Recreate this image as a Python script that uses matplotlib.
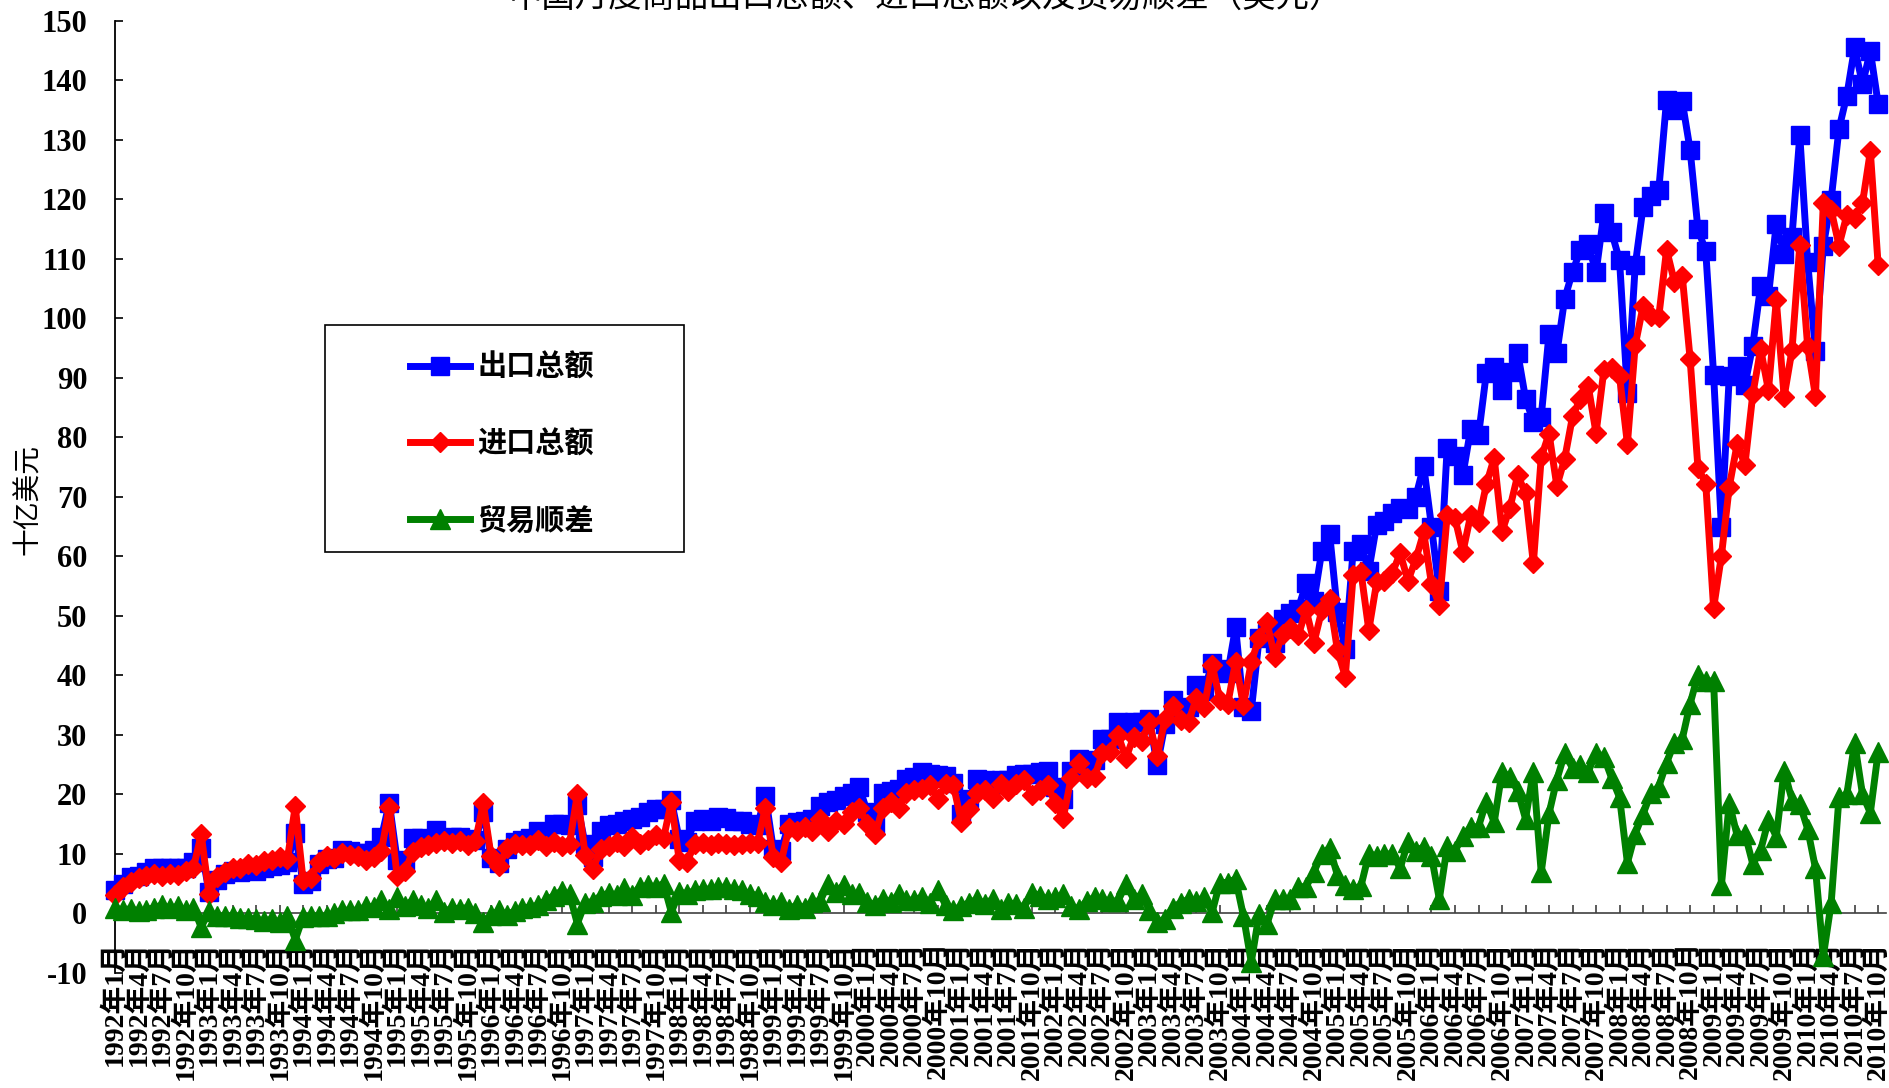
import numpy as np
import matplotlib
matplotlib.use("Agg")
import matplotlib.pyplot as plt
from matplotlib.patches import Rectangle

# monthly values in billion USD, Jan 1992 .. Oct 2010
exports = [
    4.0, 5.0, 6.1, 6.3, 6.9, 7.6, 7.7, 7.6, 7.7, 7.6, 8.6, 11.0,            # 1992
    3.6, 5.6, 6.6, 7.1, 7.0, 7.5, 7.2, 7.6, 7.9, 8.1, 8.6, 13.6,            # 1993
    5.0, 5.4, 8.3, 9.1, 9.4, 10.7, 10.5, 10.2, 10.1, 10.6, 12.8, 18.6,      # 1994
    9.0, 8.4, 12.6, 12.6, 12.4, 14.0, 12.5, 12.8, 12.9, 12.5, 12.3, 17.1,   # 1995
    9.3, 8.4, 10.8, 12.0, 12.4, 12.6, 13.8, 13.6, 15.0, 15.1, 14.9, 18.3,   # 1996
    11.6, 9.5, 13.9, 14.8, 15.1, 15.6, 15.9, 16.2, 17.0, 17.6, 17.6, 19.0,  # 1997
    12.5, 12.0, 15.6, 15.9, 15.6, 16.2, 16.0, 15.6, 15.6, 15.1, 14.8, 19.8, # 1998
    10.9, 10.5, 15.1, 15.3, 15.6, 15.8, 18.0, 18.8, 19.1, 19.8, 20.3, 21.2, # 1999
    17.0, 14.7, 20.3, 20.6, 20.9, 22.6, 22.9, 23.7, 23.4, 23.2, 23.1, 22.0, # 2000
    16.7, 19.3, 22.6, 22.4, 21.8, 22.5, 22.4, 23.3, 23.5, 23.4, 23.8, 24.0, # 2001
    21.2, 19.2, 24.0, 26.0, 24.8, 25.7, 29.3, 29.3, 32.1, 31.0, 32.1, 32.1, # 2002
    32.6, 24.9, 31.8, 35.8, 34.3, 34.6, 38.3, 37.4, 42.0, 41.1, 40.4, 48.1, # 2003
    34.6, 34.0, 46.2, 47.1, 45.5, 49.4, 50.4, 51.2, 55.5, 52.5, 60.9, 63.8, # 2004
    50.6, 44.5, 60.9, 62.0, 57.6, 65.3, 65.9, 67.2, 68.1, 67.9, 70.0, 75.2, # 2005
    65.0, 54.1, 78.2, 76.9, 73.6, 81.4, 80.3, 90.8, 91.8, 88.0, 91.0, 94.2, # 2006
    86.5, 82.6, 83.4, 97.4, 94.2, 103.3, 107.8, 111.4, 112.4, 107.7, 117.6, 114.4,  # 2007
    109.7, 87.4, 108.9, 118.7, 120.5, 121.5, 136.7, 134.9, 136.4, 128.3, 115.0, 111.2,  # 2008
    90.5, 64.9, 90.3, 91.9, 88.8, 95.4, 105.4, 103.7, 115.9, 110.8, 113.7, 130.7,  # 2009
    109.5, 94.5, 112.1, 119.9, 131.8, 137.4, 145.5, 139.3, 144.9, 136.0,    # 2010
]

imports = [
    3.1, 4.4, 5.3, 5.9, 6.3, 6.6, 6.3, 6.7, 6.5, 7.1, 7.6, 13.3,
    3.2, 6.1, 7.0, 7.6, 7.7, 8.3, 8.2, 8.8, 8.9, 9.5, 9.1, 18.0,
    5.6, 5.9, 8.7, 9.6, 9.3, 10.2, 9.9, 9.7, 8.9, 9.5, 10.5, 17.9,
    6.3, 7.1, 10.4, 11.2, 11.5, 11.8, 12.2, 11.9, 12.1, 11.5, 12.2, 18.5,
    9.6, 7.9, 11.0, 11.6, 11.5, 11.5, 12.4, 11.4, 12.0, 11.3, 11.7, 20.0,
    9.8, 7.5, 10.9, 11.4, 12.0, 11.4, 12.8, 11.7, 12.3, 13.1, 12.6, 18.8,
    8.9, 8.7, 11.7, 11.8, 11.5, 11.8, 11.6, 11.5, 11.7, 11.8, 11.8, 17.8,
    9.5, 8.6, 14.3, 13.9, 14.6, 13.8, 15.9, 13.8, 15.5, 15.0, 17.1, 17.8,
    15.0, 13.3, 17.8, 18.7, 17.7, 20.3, 20.7, 20.9, 21.6, 19.2, 21.7, 21.5,
    15.4, 17.5, 20.2, 20.8, 19.4, 21.8, 20.6, 21.7, 22.5, 19.9, 20.8, 21.6,
    18.5, 16.0, 22.7, 25.3, 22.7, 23.0, 26.9, 27.2, 30.0, 26.1, 29.7, 28.9,
    32.1, 26.4, 32.7, 34.8, 32.5, 32.2, 36.2, 34.7, 41.8, 35.9, 35.2, 42.3,
    35.0, 42.2, 46.3, 48.9, 43.1, 47.0, 47.9, 46.7, 51.0, 45.5, 50.9, 52.8,
    44.2, 39.8, 56.8, 57.4, 47.6, 55.6, 55.9, 57.2, 60.5, 55.9, 59.5, 64.0,
    55.4, 51.8, 66.9, 66.4, 60.7, 66.9, 65.7, 72.1, 76.5, 64.2, 68.1, 73.6,
    70.6, 58.8, 76.6, 80.6, 71.8, 76.4, 83.5, 86.5, 88.6, 80.7, 91.3, 91.7,
    90.2, 78.9, 95.5, 102.0, 100.3, 100.2, 111.5, 106.1, 107.1, 93.2, 74.9, 72.2,
    51.3, 60.1, 71.7, 78.8, 75.4, 87.2, 94.8, 87.9, 103.0, 86.8, 94.6, 112.3,
    95.3, 86.9, 119.4, 118.2, 112.2, 117.3, 116.8, 119.3, 128.0, 108.9,
]

balance = [
    0.9, 0.6, 0.8, 0.4, 0.6, 1.0, 1.4, 0.9, 1.2, 0.5, 1.0, -2.3,
    0.4, -0.5, -0.4, -0.5, -0.7, -0.8, -1.0, -1.2, -1.0, -1.4, -0.5, -4.4,
    -0.6, -0.5, -0.4, -0.5, 0.1, 0.5, 0.6, 0.5, 1.2, 1.1, 2.3, 0.7,
    2.7, 1.3, 2.2, 1.4, 0.9, 2.2, 0.3, 0.9, 0.8, 1.0, 0.1, -1.4,
    -0.3, 0.5, -0.2, 0.4, 0.9, 1.1, 1.4, 2.2, 3.0, 3.8, 3.2, -1.7,
    1.8, 2.0, 3.0, 3.4, 3.1, 4.2, 3.1, 4.5, 4.7, 4.5, 5.0, 0.2,
    3.6, 3.3, 3.9, 4.1, 4.1, 4.4, 4.4, 4.1, 3.9, 3.3, 3.0, 2.0,
    1.4, 1.9, 0.8, 1.4, 1.0, 2.0, 2.1, 5.0, 3.6, 4.8, 3.2, 3.4,
    2.0, 1.4, 2.5, 1.9, 3.2, 2.3, 2.2, 2.8, 1.8, 4.0, 1.4, 0.5,
    1.3, 1.8, 2.4, 1.6, 2.4, 0.7, 1.8, 1.6, 1.0, 3.5, 3.0, 2.4,
    2.7, 3.2, 1.3, 0.7, 2.1, 2.7, 2.4, 2.1, 2.1, 4.9, 2.4, 3.2,
    0.5, -1.5, -0.9, 1.0, 1.8, 2.4, 2.1, 2.7, 0.2, 5.2, 5.2, 5.8,
    -0.4, -8.2, -0.1, -1.8, 2.4, 2.4, 2.5, 4.5, 4.5, 7.0, 10.0, 11.0,
    6.4, 4.7, 4.1, 4.6, 10.0, 9.7, 10.0, 10.0, 7.6, 12.0, 10.5, 11.2,
    9.6, 2.4, 11.3, 10.5, 13.0, 14.5, 14.6, 18.8, 15.3, 23.8, 22.9, 20.6,
    15.9, 23.8, 6.9, 16.8, 22.5, 26.9, 24.4, 24.9, 23.8, 27.0, 26.3, 22.7,
    19.5, 8.5, 13.4, 16.7, 20.2, 21.3, 25.3, 28.7, 29.3, 35.2, 40.1, 39.0,
    39.1, 4.8, 18.6, 13.1, 13.4, 8.3, 10.6, 15.7, 12.9, 24.0, 19.1, 18.4,
    14.2, 7.6, -7.2, 1.7, 19.5, 20.0, 28.7, 20.0, 16.9, 27.1,
]

series_names = ['出口总额', '进口总额', '贸易顺差']
title = '中国月度商品出口总额、进口总额以及贸易顺差（美元）'
ylabel = '十亿美元'

# tick every 3 months: 1992年1月, 1992年4月, ...
years = list(range(1992, 2011))
tick_months = [1, 4, 7, 10]
tick_labels = ['%d年%d月' % (y, m) for y in years for m in tick_months]

W, H = 1889, 1088
fig = plt.figure(figsize=(W / 100, H / 100), dpi=100)
ax = fig.add_axes([115 / W, 1 - 973 / H, 1771 / W, 952.5 / H])

x = np.arange(len(exports))
ax.plot(x, exports, color='#0000FF', lw=5, marker='s', ms=13.5,
        zorder=3, clip_on=False, label=series_names[0])
ax.plot(x, imports, color='#FF0000', lw=5, marker='D', ms=10.5,
        zorder=4, clip_on=False, label=series_names[1])
ax.plot(x, balance, color='#008000', lw=5, marker='^', ms=14,
        zorder=5, clip_on=False, label=series_names[2])

ax.set_xlim(0, 226)
ax.set_ylim(-10, 150)

# axes styling (excel look: category axis crosses at zero)
ax.spines['top'].set_visible(False)
ax.spines['right'].set_visible(False)
ax.spines['bottom'].set_position(('data', 0))
ax.spines['bottom'].set_color('#404040')
ax.spines['bottom'].set_linewidth(1.2)
ax.spines['left'].set_linewidth(1.3)

ax.set_yticks(range(-10, 151, 10))
ax.set_yticklabels([str(v) for v in range(-10, 151, 10)],
                   fontsize=22, fontweight='bold', family='Liberation Serif')
ax.tick_params(axis='y', direction='in', length=6, width=1.2, pad=20)

n_ticks = len(range(0, len(exports), 3))
ax.set_xticks(np.arange(0, len(exports), 3))
ax.set_xticklabels(tick_labels[:n_ticks], rotation=90, fontsize=20, fontweight='bold',
                   family=['Liberation Serif', 'Noto Sans CJK SC'])
ax.tick_params(axis='x', direction='in', length=6, width=1.2, colors='black', pad=20)
ax.tick_params(axis='x', color='#404040')

# legend: frame drawn separately so its size matches
box = Rectangle((325 / W, 1 - 552 / H), 359 / W, 227 / H, transform=fig.transFigure,
                facecolor='white', edgecolor='black', lw=1.2, zorder=6, clip_on=False)
ax.add_patch(box)
leg = ax.legend(loc='upper left', bbox_to_anchor=(410 / W, 1 - 352 / H),
                bbox_transform=fig.transFigure, frameon=False, borderpad=0,
                borderaxespad=0, handlelength=2.05, handletextpad=0.27,
                labelspacing=1.6,
                prop={'family': 'Noto Sans CJK SC', 'size': 21, 'weight': 'bold'})
leg.set_zorder(7)

fig.text(926 / W, 1 + 3 / H, title, ha='center', va='center', fontsize=24,
         family='Noto Sans CJK SC')
fig.text(28 / W, 1 - 500 / H, ylabel, rotation=90, ha='center', va='center',
         fontsize=20, family='Noto Sans CJK SC')

fig.savefig('out.png', dpi=100)
